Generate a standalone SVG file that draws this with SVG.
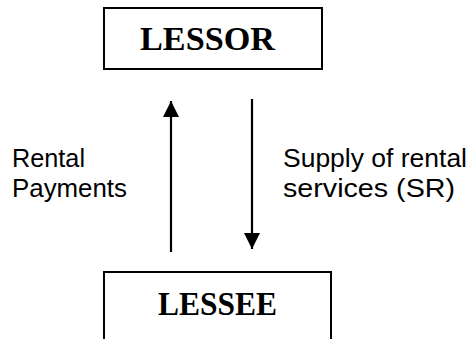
<svg xmlns="http://www.w3.org/2000/svg" width="470" height="339" viewBox="0 0 470 339">
<defs>
<style>
.box{fill:#fff;stroke:#000;stroke-width:2}
.title{font-family:"Liberation Serif","Times New Roman",serif;font-weight:bold;font-size:33px;fill:#000}
.lbl{font-family:"Liberation Sans",Arial,sans-serif;font-size:25px;fill:#000}
.conn{stroke:#000;stroke-width:2.2;fill:none}
</style>
<marker id="ah" markerWidth="16" markerHeight="16" viewBox="0 0 16 16" refX="16" refY="8" orient="auto" markerUnits="userSpaceOnUse">
<path d="M0,0 L16,8 L0,16 Z" fill="#000"/>
</marker>
</defs>
<rect width="470" height="339" fill="#fff"/>
<g id="lessor">
<rect class="box" x="104" y="8" width="218" height="61"/>
<text class="title" x="140" y="50" textLength="135" lengthAdjust="spacingAndGlyphs">LESSOR</text>
</g>
<g id="lessee">
<rect class="box" x="104" y="272" width="227" height="80"/>
<text class="title" x="158" y="315" textLength="119" lengthAdjust="spacingAndGlyphs">LESSEE</text>
</g>
<g id="connectors">
<line class="conn" x1="171" y1="252" x2="171" y2="101" marker-end="url(#ah)"/>
<line class="conn" x1="252" y1="99" x2="252" y2="249" marker-end="url(#ah)"/>
</g>
<g id="labels">
<text class="lbl" x="12" y="167" textLength="73" lengthAdjust="spacingAndGlyphs">Rental</text>
<text class="lbl" x="12" y="197" textLength="115" lengthAdjust="spacingAndGlyphs">Payments</text>
<text class="lbl" x="283" y="167" textLength="184" lengthAdjust="spacingAndGlyphs">Supply of rental</text>
<text class="lbl" x="283" y="197" textLength="172" lengthAdjust="spacingAndGlyphs">services (SR)</text>
</g>
</svg>
